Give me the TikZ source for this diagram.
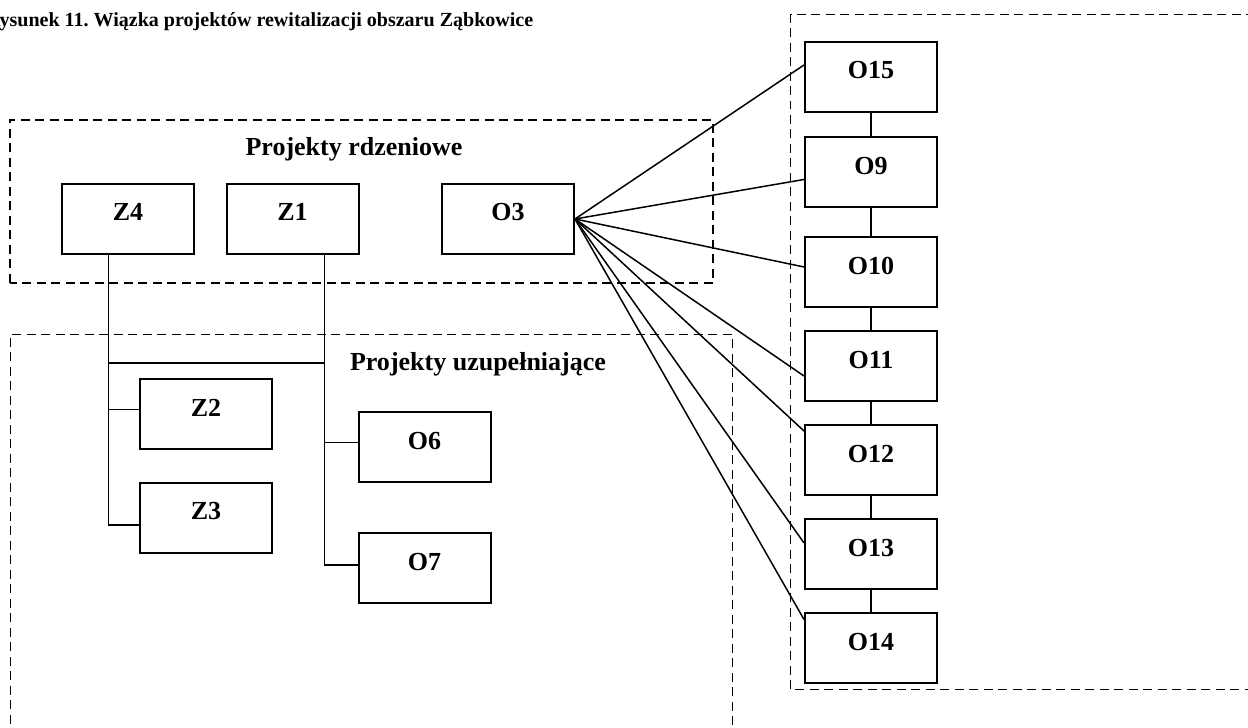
\documentclass[tikz,border=0pt]{standalone}
\usepackage{fontspec}
\setmainfont{Liberation Serif}
\usetikzlibrary{positioning,calc}
\tikzset{
   prjBox/.style = {
         rectangle,
         draw,
         line width = 0.04cm,
         align = center,
         inner sep = 0pt,
         text height = 12pt,
         text depth = 10.2pt,
         font=\fontsize{14.8}{17}\selectfont\bfseries,
         minimum width = 2.64cm,
         minimum height = 1.4cm,
      },
   prjFrame/.style = {
         draw,
         line width = 0.03cm,
         dash pattern = on 0.18cm off 0.11cm,
      },
   prjLabel/.style = {
         anchor = base,
         inner sep = 0pt,
         font=\fontsize{14.8}{17}\selectfont\bfseries,
      },
   prjTitle/.style = {
         anchor = base west,
         inner sep = 0pt,
         font=\fontsize{11.4}{13}\selectfont\bfseries,
      },
   prjLine/.style = {
         draw,
         line width = 0.03cm,
      },
}

\begin{document}
\begin{tikzpicture}[node distance = 1.88cm, auto]
\path [use as bounding box, clip] (0,0) rectangle (24.96,14.56);

% Title and frames
\node [prjTitle] at (-0.29,14.03) (title)
	{\frenchspacing Rysunek 11. Wiązka projektów rewitalizacji obszaru Ząbkowice};

\path [prjFrame] (0.2,8.9) rectangle (14.26,12.16);
\path [prjFrame] (0.21,-0.5) rectangle (14.65,7.87);
\path [prjFrame] (15.81,0.77) rectangle (25.5,14.27);

\node [prjLabel] at (7.08,11.45) (core){Projekty rdzeniowe};
\node [prjLabel] at (9.56,7.15) (supp){Projekty uzupełniające};


% Place nodes
\node [prjBox] at (2.56,10.18) (z4){Z4};
\node [prjBox, right of =z4, xshift=1.41cm] (z1){Z1};
\node [prjBox, right of =z1, xshift=2.43cm] (o3){O3};

\node [prjBox, below of =z4, xshift=1.56cm, yshift=-2.03cm] (z2){Z2};
\node [prjBox, below of =z2, yshift=-0.19cm] (z3){Z3};

\node [prjBox, below of =z1, xshift=2.64cm, yshift=-2.69cm] (o6){O6};
\node [prjBox, below of =o6, yshift=-0.54cm] (o7){O7};

\node [prjBox] at (17.42,13.02) (o15){O15};
\node [prjBox, below of =o15, yshift=-0.03cm] (o9){O9};
\node [prjBox, below of =o9, yshift=-0.12cm] (o10){O10};
\node [prjBox, below of =o10] (o11){O11};
\node [prjBox, below of =o11] (o12){O12};
\node [prjBox, below of =o12] (o13){O13};
\node [prjBox, below of =o13] (o14){O14};


% Place joins
\coordinate (z4trunk) at ([xshift=-0.39cm]z4.south);
\coordinate (z1trunk) at ([xshift=0.64cm]z1.south);
\coordinate (join) at ([yshift=-2.16cm]z1trunk);
\coordinate (z2in) at ([yshift=0.1cm]z2.west);
\coordinate (z3in) at ([yshift=-0.14cm]z3.west);
\coordinate (o6in) at ([yshift=0.1cm]o6.west);
\coordinate (o7in) at ([yshift=0.07cm]o7.west);


% Draw edges
\path [prjLine] (z4trunk) |- (z3in);
\path [prjLine] (z4trunk |- z2in) -- (z2in);
\path [prjLine] (z4trunk |- join) -- (join);

\path [prjLine] (z1trunk) |- (o7in);
\path [prjLine] (z1trunk |- o6in) -- (o6in);

\path [prjLine] (o3.east) -- ([yshift=0.24cm]o15.west);
\path [prjLine] (o3.east) -- ([yshift=-0.14cm]o9.west);
\path [prjLine] (o3.east) -- ([yshift=0.11cm]o10.west);
\path [prjLine] (o3.east) -- ([yshift=-0.19cm]o11.west);
\path [prjLine] (o3.east) -- ([yshift=0.59cm]o12.west);
\path [prjLine] (o3.east) -- ([yshift=0.23cm]o13.west);
\path [prjLine] (o3.east) -- ([yshift=0.58cm]o14.west);

\path [prjLine] (o15) -- (o9);
\path [prjLine] (o9) -- (o10);
\path [prjLine] (o10) -- (o11);
\path [prjLine] (o11) -- (o12);
\path [prjLine] (o12) -- (o13);
\path [prjLine] (o13) -- (o14);

\end{tikzpicture}
\end{document}
